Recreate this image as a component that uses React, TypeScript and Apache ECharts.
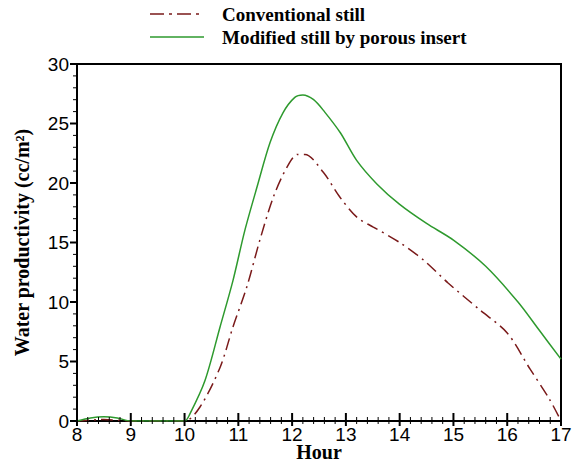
import React, { useEffect, useRef } from "react";
import * as echarts from "echarts";

const hoursModified = [8, 8.25, 8.5, 8.75, 9, 10, 10.1, 10.38, 10.66, 10.9, 11.12, 11.35, 11.59, 11.83, 12.05, 12.2, 12.4, 12.6, 12.9, 13.2, 13.58, 14.0, 14.5, 15.0, 15.6, 16.2, 16.6, 17];
const valuesModified = [0, 0.25, 0.35, 0.25, 0, 0, 0.6, 3.4, 7.9, 11.8, 16.0, 19.7, 23.4, 25.9, 27.2, 27.4, 27.0, 26.0, 24.2, 21.9, 19.9, 18.2, 16.6, 15.2, 13.0, 10.0, 7.6, 5.2];

const hoursConventional = [8, 8.5, 9, 10, 10.29, 10.66, 10.9, 11.16, 11.4, 11.65, 11.9, 12.1, 12.24, 12.58, 12.89, 13.21, 13.51, 14.0, 14.45, 14.9, 15.5, 16.0, 16.42, 16.79, 17];
const valuesConventional = [0, 0.12, 0, 0, 1.2, 4.5, 7.9, 11.3, 15.2, 18.8, 21.3, 22.4, 22.4, 20.9, 18.8, 17.1, 16.3, 15.0, 13.5, 11.6, 9.3, 7.4, 4.4, 1.8, 0];

const seriesNames = ["Conventional still", "Modified still by porous insert"];

const X_MIN = 8;
const X_MAX = 17;
const X_STEP = 1;
const Y_MIN = 0;
const Y_MAX = 30;
const Y_STEP = 5;
const MINOR_SPLIT = 5;

const RED = "#7a1a1a";
const GREEN = "#2e9a2e";

export default function App() {
  const ref = useRef<HTMLDivElement>(null);
  useEffect(() => {
    if (!ref.current) return;
    const chart = echarts.init(ref.current, undefined, { renderer: "svg" });
    const sans = "Liberation Sans";
    const serif = "Liberation Serif";
    const legendFont = { fontFamily: serif, fontWeight: "bold", fontSize: 19, fill: "#000" } as any;

    const renderTicks = (params: any, api: any) => {
      const children: any[] = [];
      const origin = api.coord([X_MIN, Y_MIN]);
      const x0 = origin[0];
      const y0 = origin[1];
      const xMinor = X_STEP / MINOR_SPLIT;
      const nx = Math.round((X_MAX - X_MIN) / xMinor);
      for (let i = 0; i <= nx; i++) {
        const v = X_MIN + i * xMinor;
        const px = api.coord([v, Y_MIN])[0];
        const major = i % MINOR_SPLIT === 0;
        children.push({
          type: "line",
          shape: { x1: px, y1: y0 + (major ? 5 : 3), x2: px, y2: y0 - (major ? 8 : 4) },
          style: { stroke: "#000", lineWidth: major ? 2 : 1 },
        });
      }
      const yMinor = Y_STEP / MINOR_SPLIT;
      const ny = Math.round((Y_MAX - Y_MIN) / yMinor);
      for (let j = 0; j <= ny; j++) {
        const v = Y_MIN + j * yMinor;
        const py = api.coord([X_MIN, v])[1];
        const major = j % MINOR_SPLIT === 0;
        children.push({
          type: "line",
          shape: { x1: x0 - (major ? 7 : 4), y1: py, x2: x0, y2: py },
          style: { stroke: "#000", lineWidth: major ? 2 : 1 },
        });
      }
      return { type: "group", children };
    };

    chart.setOption({
      animation: false,
      backgroundColor: "#fff",
      grid: { left: 77, right: 23, top: 64, bottom: 41, outerBoundsMode: "none", containLabel: false, show: true, borderColor: "#000", borderWidth: 2, backgroundColor: "transparent" },
      graphic: [
        { type: "line", shape: { x1: 150, y1: 14, x2: 204, y2: 14 }, style: { stroke: RED, lineWidth: 1.5, lineDash: [14, 5, 3, 5] } },
        { type: "text", x: 222, y: 14, style: { ...legendFont, text: seriesNames[0], verticalAlign: "middle" } },
        { type: "line", shape: { x1: 150, y1: 37, x2: 204, y2: 37 }, style: { stroke: GREEN, lineWidth: 1.5 } },
        { type: "text", x: 222, y: 37, style: { ...legendFont, text: seriesNames[1], verticalAlign: "middle" } },
      ],
      xAxis: {
        type: "value",
        min: X_MIN,
        max: X_MAX,
        interval: X_STEP,
        name: "Hour",
        nameLocation: "middle",
        nameGap: 21,
        nameMoveOverlap: false,
        nameTextStyle: { fontFamily: serif, fontWeight: "bold", fontSize: 20, color: "#000" },
        axisLine: { show: true, onZero: false, lineStyle: { color: "#000", width: 2 } },
        axisTick: { show: false },
        minorTick: { show: false },
        axisLabel: { show: true, margin: 4, fontFamily: sans, fontSize: 19, color: "#000" },
        splitLine: { show: false },
      },
      yAxis: {
        type: "value",
        min: Y_MIN,
        max: Y_MAX,
        interval: Y_STEP,
        name: "Water productivity (cc/m²)",
        nameLocation: "middle",
        nameGap: 45,
        nameTextStyle: { fontFamily: serif, fontWeight: "bold", fontSize: 20, color: "#000" },
        axisLine: { show: true, onZero: false, lineStyle: { color: "#000", width: 2 } },
        axisTick: { show: false },
        minorTick: { show: false },
        axisLabel: { margin: 8, fontFamily: sans, fontSize: 19, color: "#000" },
        splitLine: { show: false },
      },
      series: [
        {
          name: seriesNames[0],
          type: "line",
          smooth: 0.3,
          showSymbol: false,
          symbol: "none",
          data: hoursConventional.map((h, i) => [h, valuesConventional[i]]),
          lineStyle: { color: RED, width: 1.5, type: [12, 5, 2, 5] },
          itemStyle: { color: RED },
        },
        {
          name: seriesNames[1],
          type: "line",
          smooth: 0.3,
          showSymbol: false,
          symbol: "none",
          data: hoursModified.map((h, i) => [h, valuesModified[i]]),
          lineStyle: { color: GREEN, width: 1.5 },
          itemStyle: { color: GREEN },
        },
        {
          name: "ticks",
          type: "custom",
          silent: true,
          clip: false,
          z: 10,
          data: [[X_MIN, Y_MIN]],
          renderItem: renderTicks,
        },
      ],
    });
    return () => chart.dispose();
  }, []);
  return <div ref={ref} style={{ position: "fixed", left: 0, top: 0, width: 584, height: 462 }} />;
}
